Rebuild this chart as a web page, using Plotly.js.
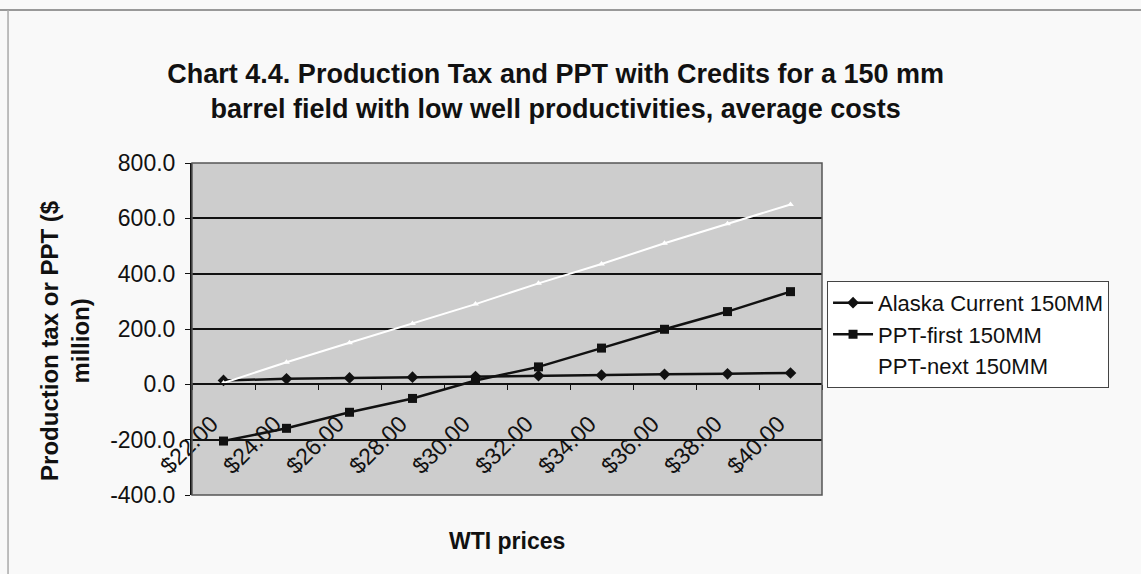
<!DOCTYPE html>
<html>
<head>
<meta charset="utf-8">
<script src="https://cdn.plot.ly/plotly-3.0.1.min.js"></script>
<style>
  html, body { margin: 0; padding: 0; background: #f9f9f9; }
  #chart { width: 1141px; height: 574px; }
</style>
</head>
<body>
<div id="chart"></div>
<script>
// WTI price categories
const precos = ['$22.00', '$24.00', '$26.00', '$28.00', '$30.00', '$32.00', '$34.00', '$36.00', '$38.00', '$40.00'];

// series values ($ million)
const alaskaAtual = [14, 20, 23, 26, 28, 31, 33, 36, 38, 41];
const pptPrimeiro = [-205, -159, -101, -51, 14, 63, 131, 199, 263, 335];
const pptProximo = [5, 80, 150, 220, 290, 365, 435, 510, 580, 650];

const nomes = ['Alaska Current 150MM', 'PPT-first 150MM', 'PPT-next 150MM'];

// y ticks (hyphen minus, like the original)
const yTicks = [-400, -200, 0, 200, 400, 600, 800];
const yRotulos = ['-400.0', '-200.0', '0.0', '200.0', '400.0', '600.0', '800.0'];

const fonte = 'Liberation Sans, Arial, sans-serif';

const data = [
  {
    x: precos, y: alaskaAtual, name: nomes[0],
    type: 'scatter', mode: 'lines+markers',
    line: { color: '#111', width: 2.5 },
    marker: { symbol: 'diamond', size: 9, color: '#111' }
  },
  {
    x: precos, y: pptPrimeiro, name: nomes[1],
    type: 'scatter', mode: 'lines+markers',
    line: { color: '#111', width: 2.5 },
    marker: { symbol: 'square', size: 9, color: '#111' }
  },
  {
    x: precos, y: pptProximo, name: nomes[2],
    type: 'scatter', mode: 'lines+markers',
    line: { color: '#ffffff', width: 2 },
    marker: { symbol: 'triangle-up', size: 6, color: '#ffffff' }
  }
];

const layout = {
  width: 1141,
  height: 574,
  margin: { l: 192, r: 319, t: 163, b: 79 },
  paper_bgcolor: '#f9f9f9',
  plot_bgcolor: '#cdcdcd',
  font: { family: fonte, color: '#111' },
  title: {
    text: '<b>Chart 4.4. Production Tax and PPT with Credits for a 150 mm<br>barrel field with low well productivities, average costs</b>',
    font: { family: fonte, size: 27, color: '#111' },
    x: 0.487, xanchor: 'center',
    y: 0.855, yanchor: 'top'
  },
  xaxis: {
    type: 'category',
    anchor: 'free',
    position: 1 / 3,
    range: [-0.5, 9.5],
    showline: true, linecolor: '#111', linewidth: 2,
    ticks: 'outside', ticklen: 5, tickcolor: '#111', tickson: 'boundaries',
    tickangle: -45,
    ticklabelstandoff: 16,
    ticklabelshift: -12,
    tickfont: { family: fonte, size: 23, color: '#111' },
    showgrid: false, zeroline: false
  },
  yaxis: {
    range: [-400, 800],
    tickvals: yTicks,
    ticktext: yRotulos,
    showline: true, linecolor: '#111', linewidth: 2,
    ticks: 'outside', ticklen: 5, tickcolor: '#111',
    ticklabelstandoff: 5,
    tickfont: { family: fonte, size: 23, color: '#111' },
    showgrid: true, gridcolor: '#111', gridwidth: 2,
    zeroline: false
  },
  legend: {
    x: 1.008, xanchor: 'left',
    y: 0.645, yanchor: 'top',
    bgcolor: '#ffffff',
    bordercolor: '#444', borderwidth: 1,
    font: { family: fonte, size: 22, color: '#111' },
    itemwidth: 40,
    tracegroupgap: 0
  },
  shapes: [
    { type: 'rect', xref: 'paper', yref: 'paper', x0: 0, x1: 1, y0: 0, y1: 1,
      line: { color: '#555', width: 1.5 } },
    { type: 'line', xref: 'paper', yref: 'paper', x0: -0.31, x1: 1.51, y0: 1.461, y1: 1.461,
      line: { color: '#999', width: 2 } },
    { type: 'line', xref: 'paper', yref: 'paper', x0: -0.292, x1: -0.292, y0: -0.25, y1: 1.461,
      line: { color: '#aaa', width: 1.5 } }
  ],
  annotations: [
    { text: '<b>WTI prices</b>', xref: 'paper', yref: 'paper', x: 0.5, y: -0.139,
      xanchor: 'center', yanchor: 'middle',
      showarrow: false, font: { family: fonte, size: 23, color: '#111' } },
    { text: '<b>Production tax or PPT ($<br>million)</b>', xref: 'paper', yref: 'paper',
      x: -0.2016, y: 0.467, xanchor: 'center', yanchor: 'middle',
      textangle: -90, showarrow: false,
      font: { family: fonte, size: 24, color: '#111' } }
  ]
};

Plotly.newPlot('chart', data, layout, { displayModeBar: false, staticPlot: true });
</script>
</body>
</html>
